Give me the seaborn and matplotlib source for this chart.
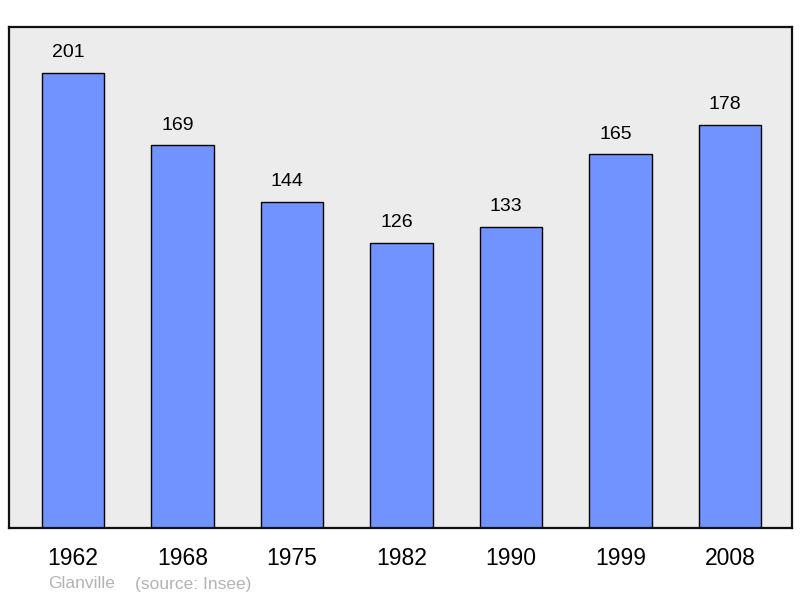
import matplotlib
matplotlib.use("Agg")
import matplotlib.pyplot as plt
import seaborn as sns
import pandas as pd

years = ["1962", "1968", "1975", "1982", "1990", "1999", "2008"]
population = [201, 169, 144, 126, 133, 165, 178]
commune = "Glanville"
source = "(source: Insee)"

sns.set_theme(style="white")
plt.rcParams["font.family"] = ["Liberation Sans", "DejaVu Sans"]

df = pd.DataFrame({"year": years, "pop": population})

fig = plt.figure(figsize=(8, 5.98), dpi=100)
ax = fig.add_axes([9 / 800, 70 / 598, 783 / 800, 501 / 598])
ax.set_facecolor("#ececec")

sns.barplot(data=df, x="year", y="pop", color="#7093ff", saturation=1,
            edgecolor="black", linewidth=1.0, width=0.57, ax=ax)

ax.set_xlim(-0.585, 6.566)
ax.set_ylim(0, 221.3)
ax.set_xlabel("")
ax.set_ylabel("")
ax.set_yticks([])
ax.tick_params(axis="x", length=0, pad=13.5, labelsize=16.5, colors="black")
for s in ax.spines.values():
    s.set_linewidth(1.6)
    s.set_color("#111111")

for i, v in enumerate(population):
    ax.annotate(str(v), (i, v), xytext=(-3.6, 8.5), textcoords="offset points",
                ha="center", va="bottom", fontsize=14, color="black")

fig.text(48 / 800, 1 - 584 / 598, commune, fontsize=12.5, color="#b3b3b3",
         ha="left", va="center")
fig.text(135 / 800, 1 - 584 / 598, source, fontsize=12.5, color="#b3b3b3",
         ha="left", va="center")

fig.savefig("out.png", dpi=100)
